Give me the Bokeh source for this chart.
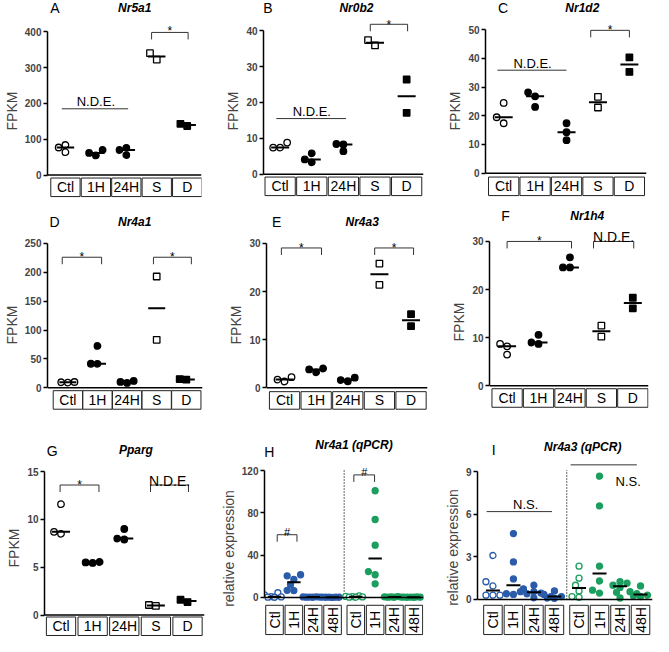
import math
from bokeh.plotting import figure
from bokeh.models import Range1d, FixedTicker, Span, Label
from bokeh.layouts import row, column
from bokeh.embed import file_html
from bokeh.resources import INLINE
from bokeh.core.properties import value

FONT = "Liberation Sans"
BLUE = "#2a5caa"
GREEN = "#1b9e5e"

# ---------------- data ----------------
fpkm_groups = ["Ctl", "1H", "24H", "S", "D"]
qpcr_groups = ["Ctl", "1H", "24H", "48H"]

# FPKM values per group (Ctl, 1H, 24H, S, D)
nr5a1 = [[84, 64, 77], [70, 55, 62], [76, 56, 70], [340, 322], [137, 143]]
nr0b2 = [[7.4, 8.8, 7.4], [3.3, 5.8, 4.1], [8.4, 6.4, 8.3], [35.9, 37.4], [26.4, 17.1]]
nr1d2 = [[17.4, 24.5, 19.5], [28.2, 23.1, 26.8], [17.4, 14.3, 11.5], [26.6, 22.9], [40.4, 35.3]]
nr4a1 = [[9, 10, 9.5], [72.5, 41.5, 41.6], [8.4, 11.8, 10.1], [192.7, 83], [14, 15]]
nr4a3 = [[1.3, 2.2, 1.7], [3.2, 4.0, 3.8], [1.35, 2.1, 1.6], [25.8, 21.4], [15.3, 12.8]]
nr1h4 = [[8.7, 6.5, 8.2], [8.7, 10.6, 9.0], [26.7, 24.6, 24.6], [12.5, 10.2], [18.3, 16.1]]
pparg = [[11.6, 8.5, 8.7], [5.45, 5.55, 5.5], [9.0, 7.9, 8.0], [0.95, 1.05], [1.36, 1.6]]

# qPCR relative expression (Ctl, 1H, 24H, 48H) for the blue and green series
nr4a1_qpcr_blue = [[4.5, 2.5, 0.8, 0.5, 0.3, 0.2], [21.5, 20.5, 17, 12, 6.5, 6.8],
                   [0.6, 0.4, 0.3, 0.5, 0.2, 0.4], [0.3, 0.2, 0.4, 0.1, 0.3, 0.2]]
nr4a1_qpcr_green = [[1.5, 1.0, 0.8, 0.5, 0.3, 0.2], [101, 73.8, 49.5, 24.5, 21.5, 12.9],
                    [0.9, 0.6, 0.5, 0.4, 0.3, 0.2], [0.5, 0.3, 0.2, 0.3, 0.4, 0.2]]
nr4a3_qpcr_blue = [[3.1, 1.25, 0.95, 0.3, 0.3, 0.3], [4.65, 2.65, 1.45, 0.55, 0.35, 0.4],
                   [1.0, 0.75, 0.55, 0.45, 0.4, 0.12], [0.6, 0.35, 0.2, 0.2, 0.1, 0.08]]
nr4a3_qpcr_green = [[2.35, 1.5, 1.0, 0.6, 0.2, 0.15], [8.7, 6.6, 2.35, 1.3, 0.65, 0.45],
                    [1.25, 1.15, 1.0, 0.85, 0.5, 0.1], [0.95, 0.55, 0.4, 0.3, 0.25, 0.2]]

# ---------------- layout helpers ----------------
SX = 653 / 669
SY = 636 / 652
COL_X = [8, 225, 443]
COL_W = [217, 218, 218]
ROW_Y = [8, 213, 427]
ROW_H = [205, 214, 217]


def ox(xr):
    return 8 + xr * SX


def oy(yr):
    return 8 + yr * SY


def median(v):
    s = sorted(v)
    n = len(s)
    return s[n // 2] if n % 2 else (s[n // 2 - 1] + s[n // 2]) / 2


def swarm(vals, ppu, step, coll, kmax):
    cands = [0.0]
    for k in range(1, kmax + 1):
        cands += [-k * step, k * step]
    placed = []
    offs = [0.0] * len(vals)
    for i in sorted(range(len(vals)), key=lambda j: vals[j]):
        yp = vals[i] * ppu
        chosen, bestc, bestd = None, 0.0, -1.0
        for cx in cands:
            d = min([math.hypot(cx - px, yp - py) for px, py in placed], default=1e9)
            if d >= coll:
                chosen = cx
                break
            if d > bestd:
                bestd, bestc = d, cx
        if chosen is None:
            chosen = bestc
        placed.append((chosen, yp))
        offs[i] = chosen
    return offs


def fpkm_series(data):
    styles = [("circle", False), ("circle", True), ("circle", True), ("square", False), ("square", True)]
    return [(vals, float(i), m, f, "black") for i, (vals, (m, f)) in enumerate(zip(data, styles))]


QPOS_B = [0, 1, 2, 3]
QPOS_G = [4.2, 5.2, 6.2, 7.2]


def qpcr_series(blue, green):
    out = []
    for k, (vals, pos) in enumerate(zip(blue, QPOS_B)):
        out.append((vals, pos, "circle", k != 0, BLUE))
    for k, (vals, pos) in enumerate(zip(green, QPOS_G)):
        out.append((vals, pos, "circle", k != 0, GREEN))
    return out


# notes: ("bracket", x_left, x_right, y, label, y_offset_px, font_px)
#        ("line", x_left, x_right, y, label, label_x, y_offset_px, font_px)
panels = [
    dict(key="A", title="Nr5a1", cell=(0, 0), series=fpkm_series(nr5a1), kind="fpkm", ylabel="FPKM",
         axis_x=43, end_x=206, zero_y=179, top_y=32, ticks=[0, 100, 200, 300, 400],
         first_x=62, spacing=32.2, box_y=(182, 201), box_w=30, title_xy=(126, 8), letter_xy=(4, 8),
         notes=[("line", -0.12, 2.06, 185, "N.D.E.", 1.0, -7, 13), ("bracket", 2.83, 4.03, 398, "*", -1, 12)]),
    dict(key="B", title="Nr0b2", cell=(1, 0), series=fpkm_series(nr0b2), kind="fpkm", ylabel="FPKM",
         axis_x=269, end_x=433, zero_y=178, top_y=31, ticks=[0, 10, 20, 30, 40],
         first_x=286.5, spacing=32.4, box_y=(181, 200), box_w=31, title_xy=(352, 8), letter_xy=(222, 8),
         notes=[("line", -0.12, 2.08, 15.5, "N.D.E.", 1.0, -7, 13), ("bracket", 2.85, 4.03, 41.8, "*", 1, 12)]),
    dict(key="C", title="Nr1d2", cell=(2, 0), series=fpkm_series(nr1d2), kind="fpkm", ylabel="FPKM",
         axis_x=497, end_x=662, zero_y=177, top_y=30, ticks=[0, 10, 20, 30, 40, 50],
         first_x=515.5, spacing=32.2, box_y=(181, 200), box_w=31, title_xy=(580, 8), letter_xy=(463, 8),
         notes=[("line", -0.2, 2.0, 35.9, "N.D.E.", 0.92, -7, 13), ("bracket", 2.77, 4.0, 49.8, "*", 0, 12)]),
    dict(key="D", title="Nr4a1", cell=(0, 1), series=fpkm_series(nr4a1), kind="fpkm", ylabel="FPKM",
         axis_x=39, end_x=207, zero_y=397, top_y=249, ticks=[0, 50, 100, 150, 200, 250],
         first_x=61, spacing=32.1, box_y=(400, 419), box_w=30, title_xy=(125, 227.5), letter_xy=(3, 227),
         notes=[("bracket", -0.19, 1.14, 226, "*", 0, 12), ("bracket", 2.89, 4.17, 226, "*", 0, 12)]),
    dict(key="E", title="Nr4a3", cell=(1, 1), series=fpkm_series(nr4a3), kind="fpkm", ylabel="FPKM",
         axis_x=273, end_x=437, zero_y=397, top_y=249, ticks=[0, 10, 20, 30],
         first_x=291, spacing=32.4, box_y=(401, 419), box_w=31, title_xy=(355, 227), letter_xy=(230, 227),
         notes=[("bracket", -0.1, 1.17, 29.05, "*", 0, 12), ("bracket", 2.85, 4.08, 29.05, "*", 0, 12)]),
    dict(key="F", title="Nr1h4", cell=(2, 1), series=fpkm_series(nr1h4), kind="fpkm", ylabel="FPKM",
         axis_x=501, end_x=664, zero_y=395, top_y=247, ticks=[0, 10, 20, 30],
         first_x=519, spacing=32.2, box_y=(398, 417), box_w=31, title_xy=(583, 220.5), letter_xy=(462, 220.5),
         notes=[("bracket", 0.0, 2.05, 30, "*", 0, 12), ("bracket", 2.75, 4.03, 30, "N.D.E.", -4, 14)]),
    dict(key="G", title="Pparg", cell=(0, 2), series=fpkm_series(pparg), kind="fpkm", ylabel="FPKM",
         axis_x=45, end_x=209, zero_y=630, top_y=483, ticks=[0, 5, 10, 15],
         first_x=62, spacing=32.4, box_y=(632, 651), box_w=30, title_xy=(127, 461), letter_xy=(3, 462),
         notes=[("bracket", -0.03, 1.2, 13.6, "*", 0, 12), ("bracket", 2.83, 4.03, 13.6, "N.D.E.", -4, 14)]),
    dict(key="H", title="Nr4a1 (qPCR)", cell=(1, 2), series=qpcr_series(nr4a1_qpcr_blue, nr4a1_qpcr_green),
         kind="qpcr", ylabel="relative expression",
         axis_x=263, end_x=433, zero_y=612, top_y=482, ticks=[0, 40, 80, 120],
         first_x=274, spacing=20.7, box_y=(620, 650), box_w=18, title_xy=(348, 456), letter_xy=(222, 463),
         notes=[("bracket", 0.14, 1.16, 59.4, "#", -3, 11), ("bracket", 4.1, 5.17, 116, "#", -3, 11)]),
    dict(key="I", title="Nr4a3 (qPCR)", cell=(2, 2), series=qpcr_series(nr4a3_qpcr_blue, nr4a3_qpcr_green),
         kind="qpcr", ylabel="relative expression",
         axis_x=489, end_x=668, zero_y=614, top_y=483.3, ticks=[0, 3, 6, 9],
         first_x=504.5, spacing=21, box_y=(620, 650), box_w=19, title_xy=(580, 458), letter_xy=(464, 461),
         notes=[("line", -0.31, 2.88, 6.2, "N.S.", 1.6, -7, 13), ("line", 3.79, 7.02, 9.5, "N.S.", 6.6, 17, 13)]),
]


def build(sp):
    c, r = sp["cell"]
    W, H = COL_W[c], ROW_H[r]
    X0, Y0 = COL_X[c], ROW_Y[r]

    # ---- header strip: panel letter + gene title
    lx, ly = sp["letter_xy"]
    tx_, ty_ = sp["title_xy"]
    l_cy = max(7.5, oy(ly) - Y0)
    t_cy = max(7.5, oy(ty_) - Y0)
    hh = int(round(max(l_cy, t_cy) + 8.5))
    hdr = figure(width=W, height=hh, x_range=Range1d(0, W), y_range=Range1d(hh, 0),
                 x_axis_type=None, y_axis_type=None, output_backend="svg", toolbar_location=None,
                 min_border_left=0, min_border_right=0, min_border_top=0, min_border_bottom=0)
    hdr.outline_line_color = None
    hdr.add_layout(Label(x=ox(lx) - X0, y=l_cy, text=sp["key"], text_font=FONT, text_font_size="14px",
                         text_align="left", text_baseline="middle", text_color="black"))
    hdr.add_layout(Label(x=ox(tx_) - X0, y=t_cy, text=sp["title"], text_font=FONT, text_font_size="12px",
                         text_font_style="bold italic", text_align="center", text_baseline="middle",
                         text_color="black"))

    # ---- main plot
    Hm = H - hh
    lb = int(round(ox(sp["axis_x"]) - X0))
    rb = max(0, int(round(X0 + W - ox(sp["end_x"]))))
    fw = W - lb - rb
    zy = oy(sp["zero_y"]) - Y0 - hh
    ty = oy(sp["top_y"]) - Y0 - hh
    ticks = sp["ticks"]
    tmax = ticks[-1]
    u = tmax / (zy - ty)
    ylo, yhi = -(Hm - zy) * u, zy * u
    s = sp["spacing"] * SX
    c0 = ox(sp["first_x"]) - X0 - lb
    xlo = -c0 / s
    xhi = xlo + fw / s

    def dy(yr):
        return yhi - (oy(yr) - Y0 - hh) * u

    p = figure(width=W, height=Hm, x_range=Range1d(xlo, xhi), y_range=Range1d(ylo, yhi),
               x_axis_type=None, output_backend="svg", toolbar_location=None,
               min_border_left=lb, min_border_right=rb, min_border_top=0, min_border_bottom=0)
    p.outline_line_color = None
    p.ygrid.visible = False

    ax = p.yaxis[0]
    ax.ticker = FixedTicker(ticks=ticks)
    ax.bounds = (0, tmax)
    ax.axis_label = sp["ylabel"]
    ax.axis_label_text_font = FONT
    ax.axis_label_text_font_size = "14px"
    ax.axis_label_text_font_style = "normal"
    ax.axis_label_standoff = 2
    ax.major_label_text_font = FONT
    ax.major_label_text_font_size = "10px"
    ax.major_label_text_font_style = "bold"
    ax.major_label_standoff = 2
    ax.major_tick_out = 4
    ax.major_tick_in = 0
    ax.minor_tick_line_color = None
    ax.axis_line_width = 1.5
    ax.major_tick_line_width = 1.5

    p.add_layout(Span(location=0, dimension="width", line_color="black", line_width=1.5))

    if sp["kind"] == "fpkm":
        step, coll, kmax, size, hw = 7.0, 6.5, 2, 6.5, 9
        positions = [0, 1, 2, 3, 4]
        names = fpkm_groups
        angle = 0
    else:
        step, coll, kmax, size, hw = 3.5, 6.0, 3, 6.0, 7
        positions = QPOS_B + QPOS_G
        names = qpcr_groups + qpcr_groups
        angle = math.pi / 2
        sep = (QPOS_B[-1] + QPOS_G[0]) / 2
        p.segment(x0=[sep], y0=[0], x1=[sep], y1=[tmax * 1.015], line_color="black",
                  line_width=1.2, line_dash="1 2")

    for vals, pos, marker, filled, color in sp["series"]:
        offs = swarm(vals, 1.0 / u, step, coll, kmax)
        xs = [pos + o / s for o in offs]
        p.scatter(x=xs, y=vals, marker=marker, size=size, line_color=color,
                  fill_color=color if filled else "white", line_width=1.3)
    for vals, pos, marker, filled, color in sp["series"]:
        m = median(vals)
        p.segment(x0=[pos - hw / s], y0=[m], x1=[pos + hw / s], y1=[m], line_color="black", line_width=2)

    bt, bb = sp["box_y"]
    yc = dy((bt + bb) / 2)
    p.rect(x=positions, y=[yc] * len(positions), width=sp["box_w"] * SX, height=(bb - bt) * SY,
           width_units="screen", height_units="screen", fill_color="white",
           line_color="#222222", line_width=1)
    p.text(x=positions, y=[yc] * len(positions), text=names, text_align="center",
           text_baseline="middle", text_font=value(FONT), text_font_size="14px",
           text_color="black", angle=angle)

    leg = 7 * u
    for note in sp["notes"]:
        if note[0] == "bracket":
            _, xl, xr, yv, lab, off, fs = note
            p.multi_line(xs=[[xl, xl, xr, xr]], ys=[[yv - leg, yv, yv, yv - leg]],
                         line_color="#333333", line_width=1)
            tx = (xl + xr) / 2
        else:
            _, xl, xr, yv, lab, tx, off, fs = note
            p.segment(x0=[xl], y0=[yv], x1=[xr], y1=[yv], line_color="#333333", line_width=1)
        p.text(x=[tx], y=[yv], text=[lab], y_offset=off, text_align="center",
               text_baseline="alphabetic", text_font=value(FONT),
               text_font_size=f"{fs}px", text_color="black")

    return column(hdr, p, spacing=0)


cells = [build(sp) for sp in panels]
layout = column(row(*cells[0:3], spacing=0), row(*cells[3:6], spacing=0), row(*cells[6:9], spacing=0),
                spacing=0)
open("out.html", "w").write(file_html(layout, INLINE))
